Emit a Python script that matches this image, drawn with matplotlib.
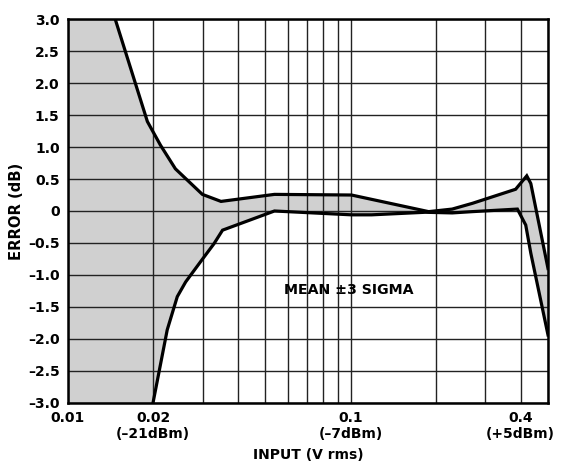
import matplotlib
matplotlib.use("Agg")
import matplotlib.pyplot as plt
from matplotlib.ticker import FixedLocator, NullFormatter

plt.rcParams['font.family'] = ['DejaVu Sans']
plt.rcParams['font.weight'] = 'bold'

# ---- data ----
upper_x = [0.0147, 0.0191, 0.02125, 0.0240, 0.0299, 0.0348, 0.0538, 0.1008,
           0.189, 0.229, 0.270, 0.384, 0.4205, 0.4346, 0.5]
upper_y = [3.0, 1.40, 1.03, 0.66, 0.26, 0.15, 0.26, 0.25,
           -0.01, 0.03, 0.12, 0.34, 0.55, 0.43, -0.90]

lower_x = [0.0200, 0.02245, 0.02437, 0.02609, 0.0295, 0.03289, 0.03524, 0.0538,
           0.1008, 0.1188, 0.1838, 0.229, 0.270, 0.3896, 0.417, 0.4346, 0.5]
lower_y = [-3.0, -1.86, -1.34, -1.11, -0.79, -0.51, -0.30, 0.0,
           -0.06, -0.06, -0.02, -0.03, -0.01, 0.03, -0.22, -0.66, -1.94]

x_major = [0.01, 0.02, 0.1, 0.4]
x_major_labels = ['0.01', '0.02\n(\u201321dBm)', '0.1\n(\u20137dBm)', '0.4\n(+5dBm)']
x_minor = [0.03, 0.04, 0.05, 0.06, 0.07, 0.08, 0.09, 0.2, 0.3, 0.5]
y_ticks = [-3.0, -2.5, -2.0, -1.5, -1.0, -0.5, 0.0, 0.5, 1.0, 1.5, 2.0, 2.5, 3.0]
y_labels = ['\u20133.0', '\u20132.5', '\u20132.0', '\u20131.5', '\u20131.0', '\u20130.5',
            '0', '0.5', '1.0', '1.5', '2.0', '2.5', '3.0']

xlim = (0.01, 0.5)
ylim = (-3.0, 3.0)

fig = plt.figure(figsize=(5.67, 4.75), dpi=100)
ax = fig.add_axes([0.1199, 0.1522, 0.8466, 0.8072])
ax.set_xscale('log')
ax.set_xlim(*xlim)
ax.set_ylim(*ylim)

# shaded band, left part runs off the plot so it is closed along the axis edge
poly_x = [xlim[0]] + upper_x + lower_x[::-1] + [xlim[0]]
poly_y = [ylim[1]] + upper_y + lower_y[::-1] + [ylim[0]]
ax.fill(poly_x, poly_y, color='#d0d0d0', lw=0, zorder=1)

ax.plot(upper_x, upper_y, color='black', lw=2.3, solid_joinstyle='miter', zorder=3)
ax.plot(lower_x, lower_y, color='black', lw=2.3, solid_joinstyle='miter', zorder=3)

ax.xaxis.set_major_locator(FixedLocator(x_major))
ax.xaxis.set_minor_locator(FixedLocator(x_minor))
ax.xaxis.set_minor_formatter(NullFormatter())
ax.set_xticklabels(x_major_labels, linespacing=1.2)
ax.set_yticks(y_ticks)
ax.set_yticklabels(y_labels)

ax.grid(True, which='both', color='#222222', lw=1.0, zorder=2)
ax.set_axisbelow(False)
ax.tick_params(which='both', length=0, labelsize=10)
ax.tick_params(axis='y', pad=6)
ax.tick_params(axis='x', pad=6)
for s in ax.spines.values():
    s.set_linewidth(1.8)
    s.set_zorder(4)

ax.set_xlabel('INPUT (V rms)', fontsize=10, fontweight='bold', labelpad=5)
ax.set_ylabel('ERROR (dB)', fontsize=10.6, fontweight='bold', labelpad=3)

ax.text(0.0583, -1.24, 'MEAN \u00b13 SIGMA', fontsize=10.2, fontweight='bold',
        va='center', ha='left', zorder=5)

fig.savefig('out.png', dpi=100)
